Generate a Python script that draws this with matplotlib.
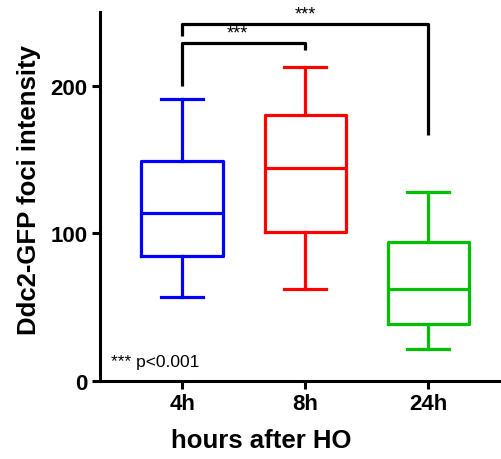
import matplotlib
matplotlib.use('Agg')
import matplotlib.pyplot as plt

# box statistics
groups = ['4h', '8h', '24h']
whislo = [57, 62, 22]
q1 = [85, 101, 38.5]
med = [113.5, 144.5, 62]
q3 = [149, 180, 94]
whishi = [191, 213, 128]
colors = ['#0000ff', '#ff0000', '#00c000']

plt.rcParams['font.family'] = ['Liberation Sans', 'DejaVu Sans']

fig = plt.figure(figsize=(5.02, 4.6), dpi=100)
ax = fig.add_axes([100 / 502, 78 / 460, 402 / 502, 369 / 460])

pos = [1, 2, 3]
for i in range(3):
    st = [dict(whislo=whislo[i], q1=q1[i], med=med[i], q3=q3[i], whishi=whishi[i], fliers=[])]
    props = dict(color=colors[i], linewidth=2.3)
    ax.bxp(st, positions=[pos[i]], widths=0.66, showfliers=False,
           boxprops=props, whiskerprops=props, capprops=props, medianprops=props,
           capwidths=0.34)

# significance brackets
lw = 2.3
ax.plot([1, 1, 2, 2], [200, 229, 229, 224], color='black', lw=lw, solid_capstyle='butt')
ax.plot([1, 1, 3, 3], [234, 242, 242, 167], color='black', lw=lw, solid_capstyle='butt')
ax.text(1.45, 230, '***', ha='center', va='bottom', fontsize=13)
ax.text(2.0, 243, '***', ha='center', va='bottom', fontsize=13)
ax.text(0.42, 8, '*** p<0.001', ha='left', va='bottom', fontsize=12.5)

ax.set_xlim(0.333, 3.6)
ax.set_ylim(0, 250)
ax.set_xticks(pos)
ax.set_xticklabels(groups, fontsize=16, fontweight='bold')
ax.set_yticks([0, 100, 200])
ax.set_yticklabels(['0', '100', '200'], fontsize=16, fontweight='bold')
ax.tick_params(width=2.2, length=6, pad=3)
ax.spines['top'].set_visible(False)
ax.spines['right'].set_visible(False)
ax.spines['left'].set_linewidth(2.2)
ax.spines['bottom'].set_linewidth(2.2)
ax.set_xlabel('hours after HO', fontsize=18.5, fontweight='bold')
ax.xaxis.set_label_coords(0.402, -0.128)
ax.set_ylabel('Ddc2-GFP foci intensity', fontsize=18.5, fontweight='bold')
ax.yaxis.set_label_coords(-0.146, 0.52)

fig.savefig('out.png', dpi=100)
